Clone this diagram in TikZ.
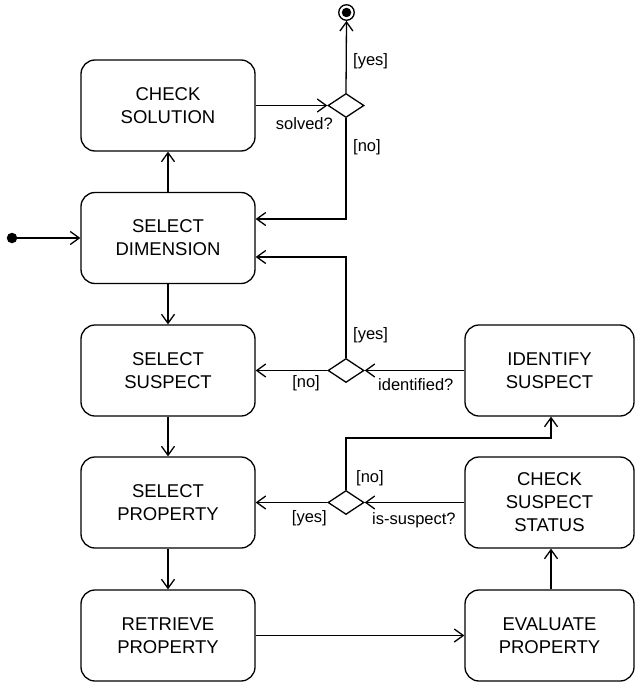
\documentclass[tikz,border=0pt]{standalone}
\usepackage{fontspec}
\setmainfont{Liberation Sans}
\usetikzlibrary{arrows.meta,shapes.geometric}
\begin{document}
\begin{tikzpicture}[x=1pt,y=-1pt,
 state/.style={draw, line width=1.3pt, rounded corners=14pt, minimum width=174pt, minimum height=91pt, align=center, font=\fontsize{18.5}{23}\selectfont, inner sep=0pt},
 dec/.style={draw, line width=1.3pt, diamond, minimum width=36pt, minimum height=24pt, inner sep=0pt},
 conn/.style={line width=1.3pt, -{Straight Barb[length=9pt,width=13pt]}},
 lbl/.style={font=\fontsize{16.5}{20}\selectfont, inner sep=0pt}]
\useasboundingbox (0,0) rectangle (635,685);
% states
\node[state] (cs) at (168,105.5) {CHECK\\SOLUTION};
\node[state] (sd) at (168,238) {SELECT\\DIMENSION};
\node[state] (ss) at (168,370.5) {SELECT\\SUSPECT};
\node[state] (sp) at (168,502.5) {SELECT\\PROPERTY};
\node[state] (rp) at (168,635.5) {RETRIEVE\\PROPERTY};
\node[state, minimum width=169pt] (is) at (549.5,370.5) {IDENTIFY\\SUSPECT};
\node[state, minimum width=169pt] (chs) at (549.5,502.5) {CHECK\\SUSPECT\\STATUS};
\node[state, minimum width=169pt] (ep) at (549.5,635.5) {EVALUATE\\PROPERTY};
% decisions
\node[dec] (d1) at (346,105.5) {};
\node[dec] (d2) at (346,370.5) {};
\node[dec] (d3) at (346,502.5) {};
% initial and final
\node[circle, fill, minimum size=10.5pt, inner sep=0pt] (init) at (12,238) {};
\node[circle, draw, line width=1.3pt, minimum size=15.5pt, inner sep=0pt] (fin) at (346.5,12.5) {};
\node[circle, fill, minimum size=9.5pt, inner sep=0pt] (finin) at (fin.center) {};
\coordinate (loopc) at (551,438);
% connectors
\draw[conn] (init) -- (sd.west);
\draw[conn] (cs.east) -- (d1.west);
\draw[conn] (d1.north) -- (fin.south);
\draw[conn] (d1.south) |- ([yshift=19pt]sd.east);
\draw[conn] (sd.north) -- (cs.south);
\draw[conn] (sd.south) -- (ss.north);
\draw[conn] (is.west) -- (d2.east);
\draw[conn] (d2.west) -- (ss.east);
\draw[conn] (d2.north) |- ([yshift=-19pt]sd.east);
\draw[conn] (ss.south) -- (sp.north);
\draw[conn] (chs.west) -- (d3.east);
\draw[conn] (d3.west) -- (sp.east);
\draw[conn] (d3.north) |- (loopc) -- (is.south -| loopc);
\draw[conn] (sp.south) -- (rp.north);
\draw[conn] (rp.east) -- (ep.west);
\draw[conn] (ep.north -| loopc) -- (chs.south -| loopc);
% labels
\node[lbl, anchor=west] (l1) at (353,61) {[yes]};
\node[lbl, anchor=east] (l2) at (333,124) {solved?};
\node[lbl, anchor=west] (l3) at (353,147) {[no]};
\node[lbl, anchor=west] (l4) at (353,335) {[yes]};
\node[lbl, anchor=east] (l5) at (320,383) {[no]};
\node[lbl, anchor=west] (l6) at (378,385) {identified?};
\node[lbl, anchor=west] (l7) at (356,478) {[no]};
\node[lbl, anchor=east] (l8) at (327,518) {[yes]};
\node[lbl, anchor=west] (l9) at (372,520) {is-suspect?};
\end{tikzpicture}
\end{document}
